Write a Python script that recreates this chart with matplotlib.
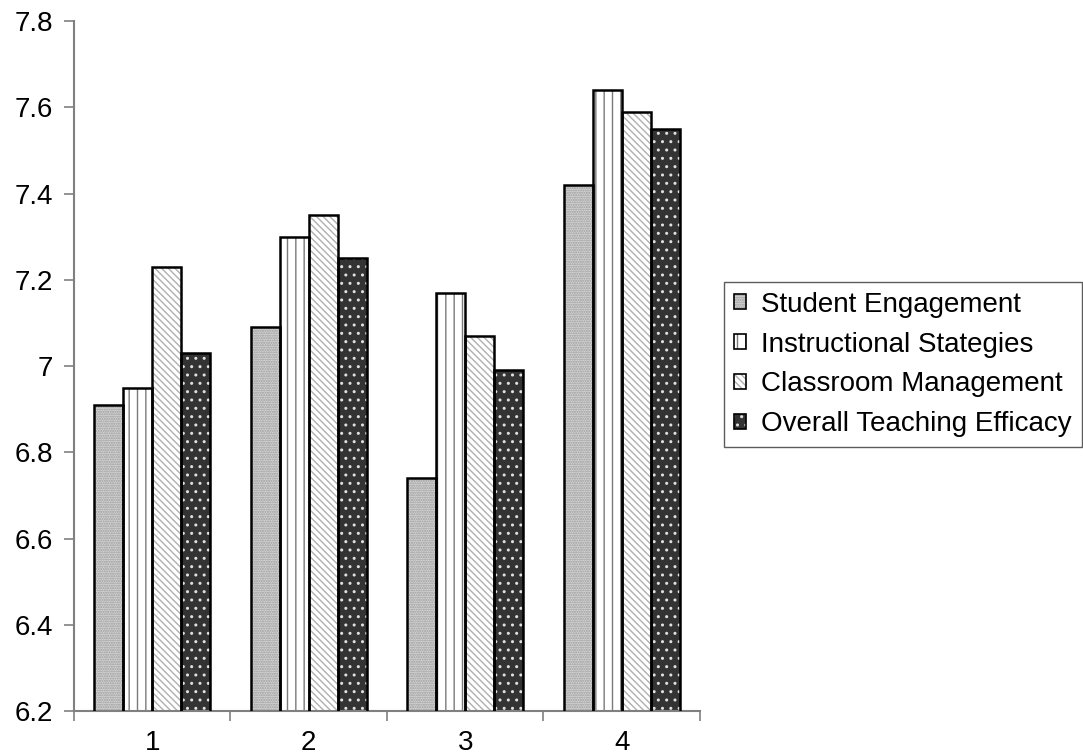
import numpy as np
import matplotlib.pyplot as plt
from matplotlib.patches import Patch
from matplotlib.legend_handler import HandlerTuple
from matplotlib.ticker import FixedLocator, FuncFormatter

plt.rcParams['font.family'] = ['Liberation Sans', 'DejaVu Sans']

groups = ['1', '2', '3', '4']
series = ['Student Engagement', 'Instructional Stategies',
          'Classroom Management', 'Overall Teaching Efficacy']
engagement = [6.91, 7.09, 6.74, 7.42]
strategies = [6.95, 7.30, 7.17, 7.64]
management = [7.23, 7.35, 7.07, 7.59]
overall = [7.03, 7.25, 6.99, 7.55]
values = [engagement, strategies, management, overall]

# (face colour, hatch colour, hatch)
styles = [
    ('#d4d4d4', '#9a9a9a', '.......'),
    ('white', '#7a7a7a', '||'),
    ('white', '#b0b0b0', '\\\\\\\\\\'),
    ('#333333', '#e0e0e0', '..'),
]

fig = plt.figure(figsize=(10.83, 7.56), dpi=100)
ax = fig.add_axes([0.0683, 0.0595, 0.578, 0.9127])

x = np.arange(1, len(groups) + 1)
width = 0.185
offsets = (np.arange(4) - 1.5) * width

handles = []
for vals, (face, hcol, hatch), off in zip(values, styles, offsets):
    ax.bar(x + off, vals, width, color=face, edgecolor=hcol,
           hatch=hatch, linewidth=0, zorder=2)
    ax.bar(x + off, vals, width, facecolor='none', edgecolor='black',
           linewidth=1.8, zorder=3)
    h1 = Patch(facecolor=face, edgecolor=hcol, hatch=hatch, linewidth=0)
    h2 = Patch(facecolor='none', edgecolor='black', linewidth=1.2)
    handles.append((h1, h2))

ax.set_ylim(6.2, 7.8)
ax.set_xlim(0.5, 4.5)
ax.set_yticks(np.arange(6.2, 7.81, 0.2))
ax.yaxis.set_major_formatter(FuncFormatter(lambda v, p: f'{round(v, 1):g}'))

ax.xaxis.set_major_locator(FixedLocator([0.5, 1.5, 2.5, 3.5, 4.5]))
ax.xaxis.set_minor_locator(FixedLocator(x))
ax.set_xticklabels([], minor=False)
ax.set_xticklabels(groups, minor=True)
ax.tick_params(axis='x', which='major', length=7, width=1.2, color='#808080', direction='out')
ax.tick_params(axis='x', which='minor', length=0, pad=14, labelsize=20)
ax.tick_params(axis='y', length=7, width=1.2, color='#808080', direction='out',
               pad=8, labelsize=20)

for s in ['top', 'right']:
    ax.spines[s].set_visible(False)
for s in ['left', 'bottom']:
    ax.spines[s].set_color('#808080')
    ax.spines[s].set_linewidth(1.5)

leg = fig.legend(handles, series, handler_map={tuple: HandlerTuple()},
                 loc='upper left', bbox_to_anchor=(0.6685, 0.627),
                 fontsize=20, frameon=True, fancybox=False, borderpad=0.35,
                 handlelength=0.45, handleheight=0.45, handletextpad=0.55,
                 labelspacing=0.5, borderaxespad=0)
leg.get_frame().set_edgecolor('#333333')
leg.get_frame().set_linewidth(1.0)

fig.savefig('out.png', dpi=100)
